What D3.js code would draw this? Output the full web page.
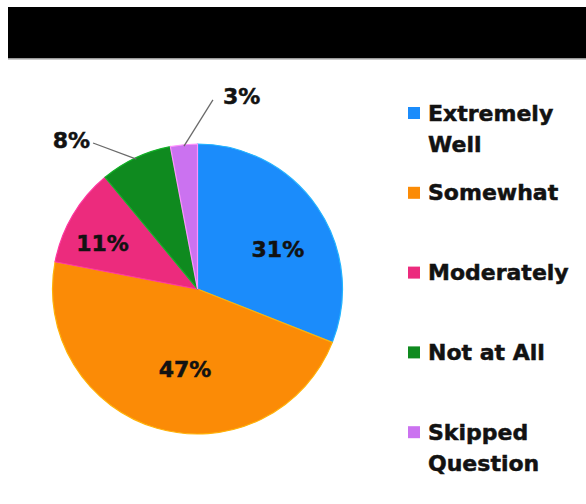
<!DOCTYPE html>
<html>
<head>
<meta charset="utf-8">
<script src="https://cdn.jsdelivr.net/npm/d3@7"></script>
<style>
  html, body { margin: 0; padding: 0; background: #ffffff; }
  svg { display: block; }
</style>
</head>
<body>
<svg id="chart" width="586" height="504"></svg>
<script>
// Survey responses, in percent
const categories = ["Extremely Well", "Somewhat", "Moderately", "Not at All", "Skipped Question"];
const legendLines = [["Extremely", "Well"], ["Somewhat"], ["Moderately"], ["Not at All"], ["Skipped", "Question"]];
const values = [31, 47, 11, 8, 3];
const colors = ["#1b8cfb", "#fb8b06", "#ec2b7d", "#0f8a1f", "#cb72f0"];

const svg = d3.select("#chart");
const W = 586, H = 504;

// Header band
svg.append("rect").attr("x", 8).attr("y", 7).attr("width", W - 8).attr("height", 51).attr("fill", "#000");
svg.append("rect").attr("x", 8).attr("y", 58).attr("width", W - 8).attr("height", 1.5).attr("fill", "#9a9a9a");

const cx = 197.5, cy = 289, R = 145;
const g = svg.append("g").attr("transform", `translate(${cx},${cy})`);

const pie = d3.pie().sort(null).value(d => d.value);
const data = pie(categories.map((c, i) => ({ name: c, value: values[i], color: colors[i] })));
const arc = d3.arc().innerRadius(0).outerRadius(R);

g.selectAll("path.slice")
  .data(data)
  .enter().append("path")
  .attr("class", "slice")
  .attr("d", arc)
  .attr("fill", d => d.data.color)
  .attr("stroke", d => d3.color(d.data.color).brighter(0.7))
  .attr("stroke-width", 1.2);

const font = "'DejaVu Sans', sans-serif";
const ink = "#121212";
const mid = d => (d.startAngle + d.endAngle) / 2;
const polar = (a, r) => [Math.sin(a) * r, -Math.cos(a) * r];

function boldText(sel) {
  return sel.attr("font-family", font).attr("font-weight", "bold").attr("font-size", 22)
    .attr("fill", ink).attr("stroke", ink).attr("stroke-width", 0.5);
}

// Label placement: angular shift from the slice middle (radians) and distance as a fraction of R
const place = {
  "Extremely Well":   { shift: 0.143,  r: 0.617 },
  "Somewhat":         { shift: -0.129, r: 0.565 },
  "Moderately":       { shift: -0.084, r: 0.728 },
  "Not at All":       { shift: -0.185, r: 1.267, anchor: "end", leader: true },
  "Skipped Question": { shift: 0.226,  r: 1.336, anchor: "start", leader: true }
};

data.forEach(d => {
  const o = place[d.data.name];
  const [lx, ly] = polar(mid(d) + o.shift, R * o.r);
  if (o.leader) {
    const [px, py] = polar(mid(d), R * 0.99);
    const ex = lx + (o.anchor === "end" ? 3 : -10);
    g.append("path")
      .attr("d", `M${px},${py}L${ex},${ly + 3}`)
      .attr("stroke", "#6a6a6a").attr("stroke-width", 1.3).attr("fill", "none");
  }
  boldText(g.append("text"))
    .attr("x", lx).attr("y", ly)
    .attr("text-anchor", o.anchor || "middle").attr("dominant-baseline", "central")
    .text(d.data.value + "%");
});

// Legend
const legend = svg.append("g").attr("transform", "translate(408,113)");
const item = legend.selectAll("g.item")
  .data(categories)
  .enter().append("g")
  .attr("class", "item")
  .attr("transform", (d, i) => `translate(0,${i * 79.8})`);

item.append("rect")
  .attr("x", 0).attr("y", -6).attr("width", 12).attr("height", 12)
  .attr("fill", (d, i) => colors[i]);

boldText(item.append("text"))
  .selectAll("tspan")
  .data((d, i) => legendLines[i])
  .enter().append("tspan")
  .attr("x", 20)
  .attr("y", (d, j) => j * 31)
  .attr("dominant-baseline", "central")
  .text(d => d);
</script>
</body>
</html>
